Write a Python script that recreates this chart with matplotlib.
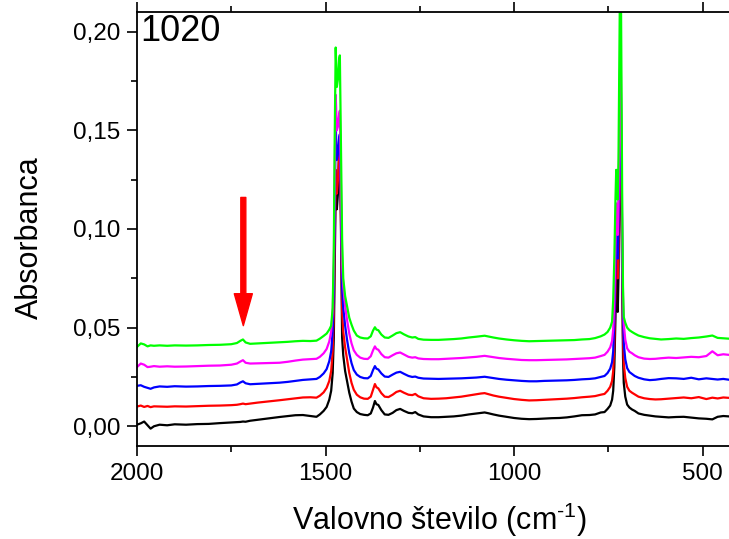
import matplotlib
matplotlib.use("Agg")
import matplotlib.pyplot as plt
from matplotlib.patches import FancyArrowPatch
from matplotlib.ticker import FixedLocator, MultipleLocator

plt.rcParams['font.family'] = ['Liberation Sans', 'DejaVu Sans']
plt.rcParams['mathtext.fontset'] = 'custom'
plt.rcParams['mathtext.rm'] = 'Liberation Sans'
plt.rcParams['mathtext.default'] = 'regular'

# ---------------- data ----------------
wavenumber = [2000, 1990, 1981, 1972, 1964, 1955, 1940, 1920, 1900, 1870,
              1840, 1810, 1780, 1750, 1735, 1726, 1719, 1712, 1700, 1680,
              1650, 1622, 1600, 1580, 1560, 1540, 1524, 1515, 1505, 1497,
              1490, 1485, 1481, 1478, 1476, 1473, 1470, 1467, 1464, 1462,
              1459, 1456, 1453, 1448, 1443, 1437, 1431, 1425, 1417, 1408,
              1398, 1388, 1380, 1374, 1369, 1365, 1360, 1352, 1343, 1333,
              1322, 1312, 1302, 1292, 1280, 1270, 1262, 1254, 1240, 1220,
              1200, 1180, 1160, 1140, 1120, 1100, 1088, 1078, 1068, 1055,
              1040, 1020, 1000, 980, 960, 940, 920, 900, 880, 860,
              840, 820, 800, 785, 770, 760, 752, 745, 740, 737,
              734, 731, 729, 727, 725, 723, 721, 719, 717, 715,
              713, 711, 709, 705, 700, 694, 687, 680, 670, 655,
              640, 625, 610, 590, 570, 550, 530, 510, 490, 474,
              460, 445, 430, 425]

abs_black = [0.0008, 0.0015, 0.0024, 0.0005, -0.0012, 0.0000, 0.0008, 0.0005, 0.0010, 0.0008,
             0.0011, 0.0012, 0.0016, 0.0019, 0.0021, 0.0022, 0.0024, 0.0023, 0.0028, 0.0033,
             0.0041, 0.0047, 0.0052, 0.0056, 0.0057, 0.0052, 0.0048, 0.0060, 0.0078, 0.0098,
             0.0135, 0.0180, 0.0270, 0.0450, 0.0750, 0.1200, 0.1100, 0.1180, 0.1400, 0.1450,
             0.1000, 0.0450, 0.0360, 0.0280, 0.0230, 0.0170, 0.0125, 0.0090, 0.0072, 0.0062,
             0.0058, 0.0056, 0.0065, 0.0095, 0.0128, 0.0112, 0.0108, 0.0082, 0.0060, 0.0058,
             0.0068, 0.0082, 0.0088, 0.0078, 0.0068, 0.0066, 0.0072, 0.0060, 0.0050, 0.0046,
             0.0046, 0.0048, 0.0050, 0.0054, 0.0060, 0.0065, 0.0068, 0.0070, 0.0066, 0.0060,
             0.0054, 0.0048, 0.0042, 0.0038, 0.0036, 0.0037, 0.0039, 0.0041, 0.0042, 0.0045,
             0.0050, 0.0056, 0.0057, 0.0060, 0.0070, 0.0072, 0.0088, 0.0105, 0.0135, 0.0180,
             0.0300, 0.0550, 0.0770, 0.0600, 0.0580, 0.0750, 0.1100, 0.1450, 0.1600, 0.1100,
             0.0700, 0.0350, 0.0220, 0.0150, 0.0110, 0.0095, 0.0085, 0.0078, 0.0065, 0.0058,
             0.0054, 0.0050, 0.0048, 0.0045, 0.0047, 0.0048, 0.0044, 0.0040, 0.0038, 0.0035,
             0.0048, 0.0052, 0.0050, 0.0052]

abs_red = [0.0100, 0.0105, 0.0098, 0.0103, 0.0097, 0.0101, 0.0100, 0.0099, 0.0101, 0.0100,
           0.0102, 0.0104, 0.0105, 0.0107, 0.0109, 0.0112, 0.0115, 0.0112, 0.0115, 0.0120,
           0.0126, 0.0132, 0.0137, 0.0142, 0.0146, 0.0147, 0.0145, 0.0155, 0.0172, 0.0195,
           0.0230, 0.0280, 0.0380, 0.0580, 0.0900, 0.1300, 0.1180, 0.1250, 0.1380, 0.1420,
           0.1050, 0.0580, 0.0480, 0.0400, 0.0340, 0.0270, 0.0220, 0.0185, 0.0160, 0.0147,
           0.0140, 0.0139, 0.0150, 0.0185, 0.0214, 0.0198, 0.0192, 0.0168, 0.0150, 0.0148,
           0.0160, 0.0174, 0.0180, 0.0170, 0.0160, 0.0158, 0.0164, 0.0152, 0.0142, 0.0139,
           0.0140, 0.0142, 0.0146, 0.0150, 0.0156, 0.0162, 0.0166, 0.0168, 0.0163, 0.0156,
           0.0150, 0.0144, 0.0138, 0.0134, 0.0131, 0.0132, 0.0134, 0.0136, 0.0138, 0.0140,
           0.0143, 0.0147, 0.0150, 0.0153, 0.0160, 0.0164, 0.0180, 0.0200, 0.0230, 0.0280,
           0.0420, 0.0700, 0.0910, 0.0780, 0.0750, 0.0900, 0.1250, 0.1600, 0.1700, 0.1200,
           0.0800, 0.0460, 0.0320, 0.0245, 0.0200, 0.0180, 0.0170, 0.0162, 0.0150, 0.0142,
           0.0138, 0.0136, 0.0137, 0.0140, 0.0143, 0.0146, 0.0142, 0.0148, 0.0138, 0.0145,
           0.0141, 0.0146, 0.0144, 0.0147]

abs_blue = [0.0205, 0.0208, 0.0200, 0.0195, 0.0190, 0.0197, 0.0202, 0.0200, 0.0203, 0.0201,
            0.0202, 0.0204, 0.0205, 0.0207, 0.0212, 0.0222, 0.0228, 0.0218, 0.0213, 0.0215,
            0.0218, 0.0221, 0.0225, 0.0230, 0.0235, 0.0238, 0.0240, 0.0250, 0.0268, 0.0290,
            0.0330, 0.0380, 0.0480, 0.0700, 0.1050, 0.1530, 0.1350, 0.1380, 0.1460, 0.1480,
            0.1120, 0.0700, 0.0600, 0.0510, 0.0440, 0.0370, 0.0320, 0.0285, 0.0262, 0.0250,
            0.0244, 0.0243, 0.0255, 0.0285, 0.0305, 0.0292, 0.0288, 0.0268, 0.0252, 0.0250,
            0.0262, 0.0272, 0.0276, 0.0266, 0.0255, 0.0250, 0.0252, 0.0246, 0.0242, 0.0241,
            0.0240, 0.0241, 0.0242, 0.0243, 0.0245, 0.0247, 0.0249, 0.0251, 0.0248, 0.0244,
            0.0240, 0.0236, 0.0233, 0.0230, 0.0228, 0.0228, 0.0230, 0.0231, 0.0232, 0.0233,
            0.0235, 0.0238, 0.0240, 0.0243, 0.0250, 0.0255, 0.0270, 0.0292, 0.0325, 0.0380,
            0.0530, 0.0800, 0.1000, 0.0880, 0.0850, 0.1000, 0.1350, 0.1700, 0.1800, 0.1300,
            0.0900, 0.0560, 0.0420, 0.0340, 0.0295, 0.0275, 0.0265, 0.0255, 0.0246, 0.0238,
            0.0234, 0.0236, 0.0240, 0.0244, 0.0243, 0.0240, 0.0246, 0.0238, 0.0243, 0.0240,
            0.0237, 0.0240, 0.0236, 0.0238]

abs_magenta = [0.0300, 0.0318, 0.0312, 0.0300, 0.0302, 0.0305, 0.0302, 0.0304, 0.0302, 0.0303,
               0.0305, 0.0307, 0.0308, 0.0312, 0.0318, 0.0328, 0.0335, 0.0322, 0.0318, 0.0319,
               0.0320, 0.0322, 0.0327, 0.0333, 0.0338, 0.0340, 0.0342, 0.0352, 0.0370, 0.0392,
               0.0430, 0.0480, 0.0580, 0.0820, 0.1200, 0.1680, 0.1500, 0.1520, 0.1580, 0.1600,
               0.1220, 0.0820, 0.0710, 0.0610, 0.0540, 0.0470, 0.0420, 0.0385, 0.0362, 0.0348,
               0.0342, 0.0341, 0.0355, 0.0385, 0.0405, 0.0392, 0.0388, 0.0366, 0.0350, 0.0348,
               0.0360, 0.0370, 0.0374, 0.0364, 0.0352, 0.0348, 0.0350, 0.0344, 0.0341, 0.0340,
               0.0340, 0.0342, 0.0344, 0.0346, 0.0349, 0.0352, 0.0355, 0.0357, 0.0354, 0.0350,
               0.0346, 0.0342, 0.0339, 0.0336, 0.0335, 0.0335, 0.0336, 0.0337, 0.0338, 0.0339,
               0.0341, 0.0343, 0.0345, 0.0348, 0.0356, 0.0362, 0.0378, 0.0400, 0.0432, 0.0490,
               0.0640, 0.0930, 0.1130, 0.1000, 0.0970, 0.1120, 0.1480, 0.1800, 0.1900, 0.1400,
               0.1000, 0.0660, 0.0520, 0.0440, 0.0395, 0.0378, 0.0370, 0.0360, 0.0350, 0.0343,
               0.0341, 0.0342, 0.0345, 0.0348, 0.0346, 0.0349, 0.0352, 0.0350, 0.0356, 0.0380,
               0.0360, 0.0365, 0.0362, 0.0366]

abs_green = [0.0402, 0.0420, 0.0415, 0.0405, 0.0410, 0.0408, 0.0410, 0.0408, 0.0410, 0.0409,
             0.0410, 0.0412, 0.0413, 0.0416, 0.0422, 0.0433, 0.0440, 0.0425, 0.0418, 0.0420,
             0.0423, 0.0426, 0.0428, 0.0431, 0.0433, 0.0432, 0.0434, 0.0444, 0.0458, 0.0470,
             0.0490, 0.0510, 0.0600, 0.0900, 0.1400, 0.1920, 0.1720, 0.1760, 0.1860, 0.1880,
             0.1400, 0.0950, 0.0750, 0.0660, 0.0610, 0.0550, 0.0515, 0.0485, 0.0460, 0.0450,
             0.0446, 0.0445, 0.0456, 0.0485, 0.0502, 0.0490, 0.0487, 0.0465, 0.0450, 0.0448,
             0.0460, 0.0472, 0.0477, 0.0466, 0.0455, 0.0450, 0.0452, 0.0443, 0.0439, 0.0438,
             0.0438, 0.0440, 0.0442, 0.0445, 0.0450, 0.0454, 0.0457, 0.0459, 0.0455, 0.0450,
             0.0445, 0.0440, 0.0436, 0.0433, 0.0431, 0.0432, 0.0433, 0.0434, 0.0435, 0.0436,
             0.0437, 0.0440, 0.0442, 0.0447, 0.0456, 0.0465, 0.0478, 0.0500, 0.0530, 0.0640,
             0.0850, 0.1150, 0.1300, 0.1180, 0.1150, 0.1350, 0.1800, 0.2250, 0.2400, 0.1700,
             0.1100, 0.0700, 0.0554, 0.0525, 0.0500, 0.0487, 0.0478, 0.0470, 0.0460, 0.0452,
             0.0446, 0.0443, 0.0440, 0.0442, 0.0445, 0.0443, 0.0447, 0.0450, 0.0455, 0.0460,
             0.0448, 0.0446, 0.0444, 0.0447]

series = [abs_black, abs_red, abs_blue, abs_magenta, abs_green]
colors = ['#000000', '#ff0000', '#0000ff', '#ff00ff', '#00ff00']

x_ticks = [2000, 1500, 1000, 500]
x_tick_labels = ['2000', '1500', '1000', '500']
y_ticks = [0.00, 0.05, 0.10, 0.15, 0.20]
y_tick_labels = ['0,00', '0,05', '0,10', '0,15', '0,20']

arrow_x = 1718
arrow_y_start = 0.116
arrow_y_end = 0.051

# ---------------- figure ----------------
fig = plt.figure(figsize=(7.29, 5.39), dpi=100)
ax = fig.add_axes([137 / 729, 1 - 446 / 539, 1 - 137 / 729 + 0.002, (446 - 12) / 539])

for ys, c in zip(series, colors):
    ax.plot(wavenumber, ys, color=c, lw=1.6, solid_joinstyle='round')

ax.set_xlim(2000, 426)
ax.set_ylim(-0.01, 0.21)

ax.xaxis.set_major_locator(FixedLocator(x_ticks))
ax.set_xticklabels(x_tick_labels)
ax.xaxis.set_minor_locator(MultipleLocator(250))
ax.yaxis.set_major_locator(FixedLocator(y_ticks))
ax.set_yticklabels(y_tick_labels)
ax.yaxis.set_minor_locator(MultipleLocator(0.025))

ax.tick_params(which='both', direction='out', width=1.2, labelsize=17.5, top=True, right=False)
ax.tick_params(which='major', length=7, pad=5)
ax.tick_params(which='minor', length=4)
ax.tick_params(axis='x', which='both', labeltop=False)
for s in ['left', 'bottom', 'top']:
    ax.spines[s].set_linewidth(1.3)
ax.spines['right'].set_visible(False)

ax.set_xlabel('Valovno število (cm$^{\u2010 1}$)', fontsize=22)
ax.set_ylabel('Absorbanca', fontsize=22)
ax.xaxis.set_label_coords(0.51, -0.125)
ax.yaxis.set_label_coords(-0.155, 0.48)

ax.text(0.006, 0.995, '1020', transform=ax.transAxes, fontsize=26,
        ha='left', va='top')

arr = FancyArrowPatch((arrow_x, arrow_y_start), (arrow_x, arrow_y_end),
                      arrowstyle='simple,head_length=23,head_width=13,tail_width=3.6',
                      mutation_scale=1, color='#ff0000', shrinkA=0, shrinkB=0, zorder=5)
ax.add_patch(arr)

fig.savefig('out.png', dpi=100)
